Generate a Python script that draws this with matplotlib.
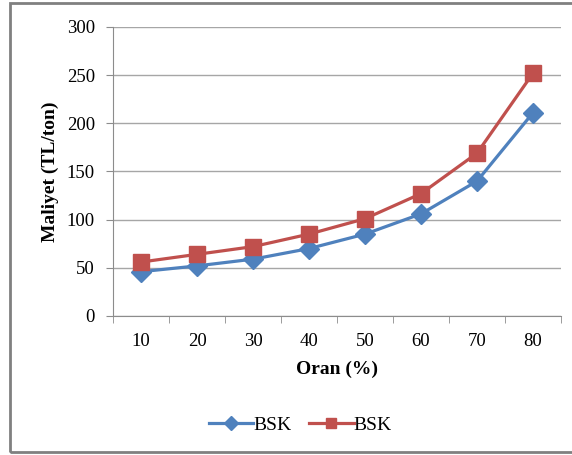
import matplotlib.pyplot as plt
from matplotlib.patches import Rectangle
from matplotlib.ticker import FixedLocator

# Oran (%) kategorileri ve maliyet serileri (TL/ton)
oran = ['10', '20', '30', '40', '50', '60', '70', '80']
bsk_1 = [46, 52, 59, 70, 85, 106, 140, 211]
bsk_2 = [56, 64, 72, 85, 101, 127, 169, 252]
y_ticks = [0, 50, 100, 150, 200, 250, 300]

plt.rcParams['font.family'] = ['Liberation Serif', 'DejaVu Serif']

fig = plt.figure(figsize=(5.72, 4.55), dpi=100)
ax = fig.add_axes([0.1976, 0.3055, 0.7832, 0.6352])

x = list(range(len(oran)))
ax.plot(x, bsk_1, color='#4F81BD', linewidth=2.3, marker='D', markersize=10,
        label='BSK')
ax.plot(x, bsk_2, color='#C0504D', linewidth=2.3, marker='s', markersize=11,
        label='BSK')

ax.set_xlim(-0.5, len(oran) - 0.5)
ax.set_ylim(0, 300)
ax.set_yticks(y_ticks)
ax.set_xticks(x)
ax.set_xticklabels(oran)
ax.xaxis.set_minor_locator(FixedLocator([i - 0.5 for i in range(len(oran) + 1)]))
ax.tick_params(axis='x', which='major', length=0, pad=12, labelsize=13.5)
ax.tick_params(axis='x', which='minor', length=5, color='#8c8c8c', direction='out')
ax.tick_params(axis='y', length=5, color='#8c8c8c', labelsize=13.5, pad=8)

ax.grid(axis='y', color='#a6a6a6', linewidth=1)
ax.set_axisbelow(True)
for side in ['top', 'right']:
    ax.spines[side].set_visible(False)
ax.spines['left'].set_color('#8c8c8c')
ax.spines['bottom'].set_color('#8c8c8c')

ax.set_xlabel('Oran (%)', fontsize=14, fontweight='bold', labelpad=8)
ax.set_ylabel('Maliyet (TL/ton)', fontsize=14, fontweight='bold', labelpad=6)

fig.legend(loc='center', bbox_to_anchor=(0.525, 0.066), ncol=2, frameon=False,
           fontsize=14, handlelength=2.3, columnspacing=0.9, handletextpad=0.0,
           markerscale=0.7)

# çerçeve
fig.patches.append(Rectangle((10 / 572, 3 / 455), 1.0, 449 / 455,
                             transform=fig.transFigure, fill=False,
                             edgecolor='#808080', linewidth=2))

fig.savefig('out.png', dpi=100)
